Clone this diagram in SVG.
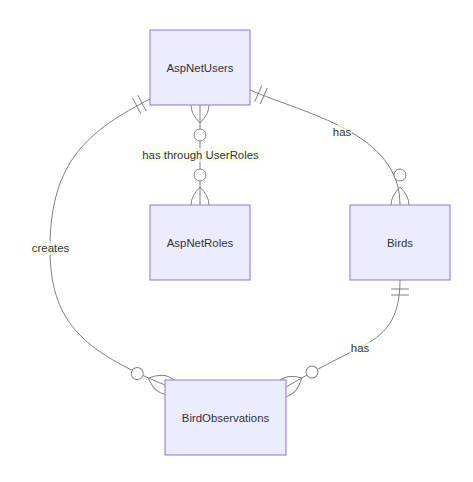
<svg xmlns="http://www.w3.org/2000/svg" width="473" height="482" viewBox="0 0 473 482">
<style>
.ent rect{fill:#ECECFF;stroke:#9370DB;stroke-width:1}
.ent text{font-family:"Liberation Sans",Arial,sans-serif;font-size:11.4px;fill:#333;text-anchor:middle;dominant-baseline:central}
.rel{fill:none;stroke:#808080;stroke-width:1}
.lbl rect{fill:#F9FFEC;fill-opacity:0.7}
.lbl text{font-family:"Liberation Sans",Arial,sans-serif;font-size:11.4px;fill:#333;text-anchor:middle;dominant-baseline:central}
.mk{stroke:#808080;fill:none}
.mkc{stroke:#808080;fill:#fff}
</style>
<defs>
<marker id="oneStart" refX="0" refY="9" markerWidth="18" markerHeight="18" orient="auto" markerUnits="userSpaceOnUse">
<path class="mk" d="M9,0 L9,18 M15,0 L15,18"/>
</marker>
<marker id="zmStart" refX="18" refY="18" markerWidth="57" markerHeight="36" orient="auto" markerUnits="userSpaceOnUse">
<circle class="mkc" cx="48" cy="18" r="6"/>
<path class="mk" d="M0,18 Q18,0 36,18 Q18,36 0,18"/>
</marker>
<marker id="zmEnd" refX="39" refY="18" markerWidth="57" markerHeight="36" orient="auto" markerUnits="userSpaceOnUse">
<circle class="mkc" cx="9" cy="18" r="6"/>
<path class="mk" d="M21,18 Q39,0 57,18 Q39,36 21,18"/>
</marker>
</defs>
<rect width="473" height="482" fill="#fff"/>
<g id="connectors">
<path class="rel" d="M200,105 L200,205" marker-start="url(#zmStart)" marker-end="url(#zmEnd)"/>
<path class="rel" d="M250,90 C305,114 400,132 400,205" marker-start="url(#oneStart)" marker-end="url(#zmEnd)"/>
<path class="rel" d="M150,99 C90,130 50,160 50,248 C50,320 80,350 165,385" marker-start="url(#oneStart)" marker-end="url(#zmEnd)"/>
<path class="rel" d="M400,280 C400,320 385,335 359,348 C335,360 312,372 286,387" marker-start="url(#oneStart)" marker-end="url(#zmEnd)"/>
</g>
<g id="AspNetUsers" class="ent"><rect x="150" y="30" width="100" height="75"/><text x="200" y="68">AspNetUsers</text></g>
<g id="AspNetRoles" class="ent"><rect x="150" y="205" width="100" height="75"/><text x="200" y="243">AspNetRoles</text></g>
<g id="Birds" class="ent"><rect x="350" y="205" width="100" height="75"/><text x="400" y="243">Birds</text></g>
<g id="BirdObservations" class="ent"><rect x="165" y="380" width="121" height="75"/><text x="225.5" y="418">BirdObservations</text></g>
<g id="labels">
<g class="lbl"><rect x="141" y="148" width="119" height="14"/><text x="200.5" y="155">has through UserRoles</text></g>
<g class="lbl"><rect x="332" y="125" width="20" height="14"/><text x="342" y="132">has</text></g>
<g class="lbl"><rect x="30" y="241" width="41" height="14"/><text x="50.5" y="248">creates</text></g>
<g class="lbl"><rect x="350" y="341" width="20" height="14"/><text x="360" y="348">has</text></g>
</g>
</svg>
